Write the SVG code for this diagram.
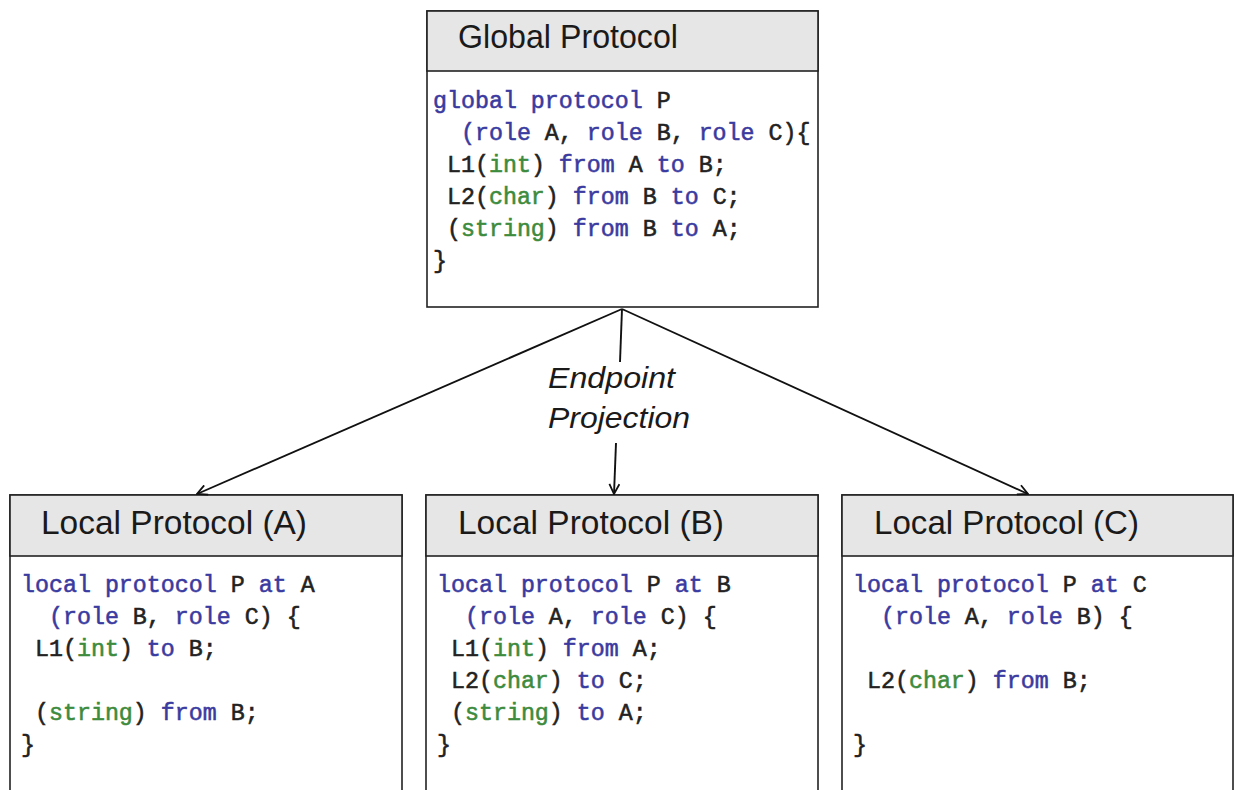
<svg xmlns="http://www.w3.org/2000/svg" width="1234" height="790" viewBox="0 0 1234 790">
<style>
.box{fill:#ffffff;stroke:#222;stroke-width:1.6}
.hdr{fill:#e6e6e6;stroke:#222;stroke-width:1.6}
.title{font-family:"Liberation Sans",Arial,sans-serif;font-size:33px;fill:#1a1a1a}
.code{font-family:"Liberation Mono","Courier New",monospace;font-size:23.3px;fill:#222;stroke:#222;stroke-width:0.55;white-space:pre}
.kw{fill:#3a3aa0;stroke:#3a3aa0}
.ty{fill:#3d8b3d;stroke:#3d8b3d}
.lbl{font-family:"Liberation Sans",Arial,sans-serif;font-style:italic;font-size:30px;fill:#1a1a1a}
.edge{fill:none;stroke:#111;stroke-width:1.9}
</style>
<defs>
<marker id="arr" viewBox="0 0 12 12" refX="11" refY="6" markerWidth="12" markerHeight="12" markerUnits="userSpaceOnUse" orient="auto">
<path d="M1,1 L11,6 L1,11" fill="none" stroke="#111" stroke-width="1.8"/>
</marker>
</defs>
<rect width="1234" height="790" fill="#ffffff"/>

<g id="global">
<rect class="box" x="427" y="11" width="391" height="296"/>
<rect class="hdr" x="427" y="11" width="391" height="60"/>
<text class="title" x="458" y="48" textLength="220" lengthAdjust="spacingAndGlyphs">Global Protocol</text>
<text class="code" xml:space="preserve">
<tspan x="433" y="108"><tspan class="kw">global protocol</tspan> P</tspan>
<tspan x="433" y="140">  <tspan class="kw">(role</tspan> A, <tspan class="kw">role</tspan> B, <tspan class="kw">role</tspan> C){</tspan>
<tspan x="433" y="172"> L1(<tspan class="ty">int</tspan>) <tspan class="kw">from</tspan> A <tspan class="kw">to</tspan> B;</tspan>
<tspan x="433" y="204"> L2(<tspan class="ty">char</tspan>) <tspan class="kw">from</tspan> B <tspan class="kw">to</tspan> C;</tspan>
<tspan x="433" y="236"> (<tspan class="ty">string</tspan>) <tspan class="kw">from</tspan> B <tspan class="kw">to</tspan> A;</tspan>
<tspan x="433" y="268">}</tspan>
</text>
</g>

<g id="localA">
<rect class="box" x="10" y="495" width="392" height="310"/>
<rect class="hdr" x="10" y="495" width="392" height="61"/>
<text class="title" x="41" y="534" textLength="266" lengthAdjust="spacingAndGlyphs">Local Protocol (A)</text>
<text class="code" xml:space="preserve">
<tspan x="21" y="592"><tspan class="kw">local protocol</tspan> P <tspan class="kw">at</tspan> A</tspan>
<tspan x="21" y="624">  <tspan class="kw">(role</tspan> B, <tspan class="kw">role</tspan> C) {</tspan>
<tspan x="21" y="656"> L1(<tspan class="ty">int</tspan>) <tspan class="kw">to</tspan> B;</tspan>
<tspan x="21" y="720"> (<tspan class="ty">string</tspan>) <tspan class="kw">from</tspan> B;</tspan>
<tspan x="21" y="752">}</tspan>
</text>
</g>

<g id="localB">
<rect class="box" x="426" y="495" width="392" height="310"/>
<rect class="hdr" x="426" y="495" width="392" height="61"/>
<text class="title" x="458" y="534" textLength="266" lengthAdjust="spacingAndGlyphs">Local Protocol (B)</text>
<text class="code" xml:space="preserve">
<tspan x="437" y="592"><tspan class="kw">local protocol</tspan> P <tspan class="kw">at</tspan> B</tspan>
<tspan x="437" y="624">  <tspan class="kw">(role</tspan> A, <tspan class="kw">role</tspan> C) {</tspan>
<tspan x="437" y="656"> L1(<tspan class="ty">int</tspan>) <tspan class="kw">from</tspan> A;</tspan>
<tspan x="437" y="688"> L2(<tspan class="ty">char</tspan>) <tspan class="kw">to</tspan> C;</tspan>
<tspan x="437" y="720"> (<tspan class="ty">string</tspan>) <tspan class="kw">to</tspan> A;</tspan>
<tspan x="437" y="752">}</tspan>
</text>
</g>

<g id="localC">
<rect class="box" x="842" y="495" width="391" height="310"/>
<rect class="hdr" x="842" y="495" width="391" height="61"/>
<text class="title" x="874" y="534" textLength="265" lengthAdjust="spacingAndGlyphs">Local Protocol (C)</text>
<text class="code" xml:space="preserve">
<tspan x="853" y="592"><tspan class="kw">local protocol</tspan> P <tspan class="kw">at</tspan> C</tspan>
<tspan x="853" y="624">  <tspan class="kw">(role</tspan> A, <tspan class="kw">role</tspan> B) {</tspan>
<tspan x="853" y="688"> L2(<tspan class="ty">char</tspan>) <tspan class="kw">from</tspan> B;</tspan>
<tspan x="853" y="752">}</tspan>
</text>
</g>

<g id="connectors">
<line class="edge" x1="622" y1="309" x2="197" y2="494" marker-end="url(#arr)"/>
<line class="edge" x1="622" y1="309" x2="1028" y2="494" marker-end="url(#arr)"/>
<line class="edge" x1="622" y1="309" x2="620" y2="362"/>
<line class="edge" x1="616" y1="443" x2="614" y2="494" marker-end="url(#arr)"/>
<text class="lbl" x="548" y="388" textLength="127" lengthAdjust="spacingAndGlyphs">Endpoint</text>
<text class="lbl" x="548" y="428" textLength="142" lengthAdjust="spacingAndGlyphs">Projection</text>
</g>
</svg>
